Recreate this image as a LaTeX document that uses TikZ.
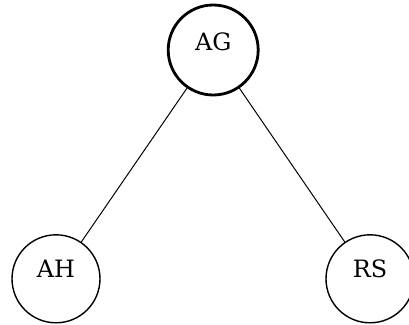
\documentclass[tikz,border=0pt]{standalone}
\usepackage{fontspec}
\setmainfont{DejaVu Serif}
\begin{document}
\begin{tikzpicture}[
  vertex/.style={circle,draw,line width=1pt,minimum size=2.2cm,text depth=0.5cm,font=\fontsize{17}{18}\selectfont},
  rootvertex/.style={vertex,line width=2pt,minimum size=2.25cm,text depth=0.4cm}
]
\useasboundingbox (0,0) rectangle (10.225,8.1);
\node[rootvertex] (ag) at (5.33,6.85) {AG};
\node[vertex] (ah) at (1.4,1.13) {AH};
\node[vertex] (rs) at (9.25,1.13) {RS};
\draw[line width=0.7pt] (ag)--(ah);
\draw[line width=0.7pt] (ag)--(rs);

\end{tikzpicture}
\end{document}
